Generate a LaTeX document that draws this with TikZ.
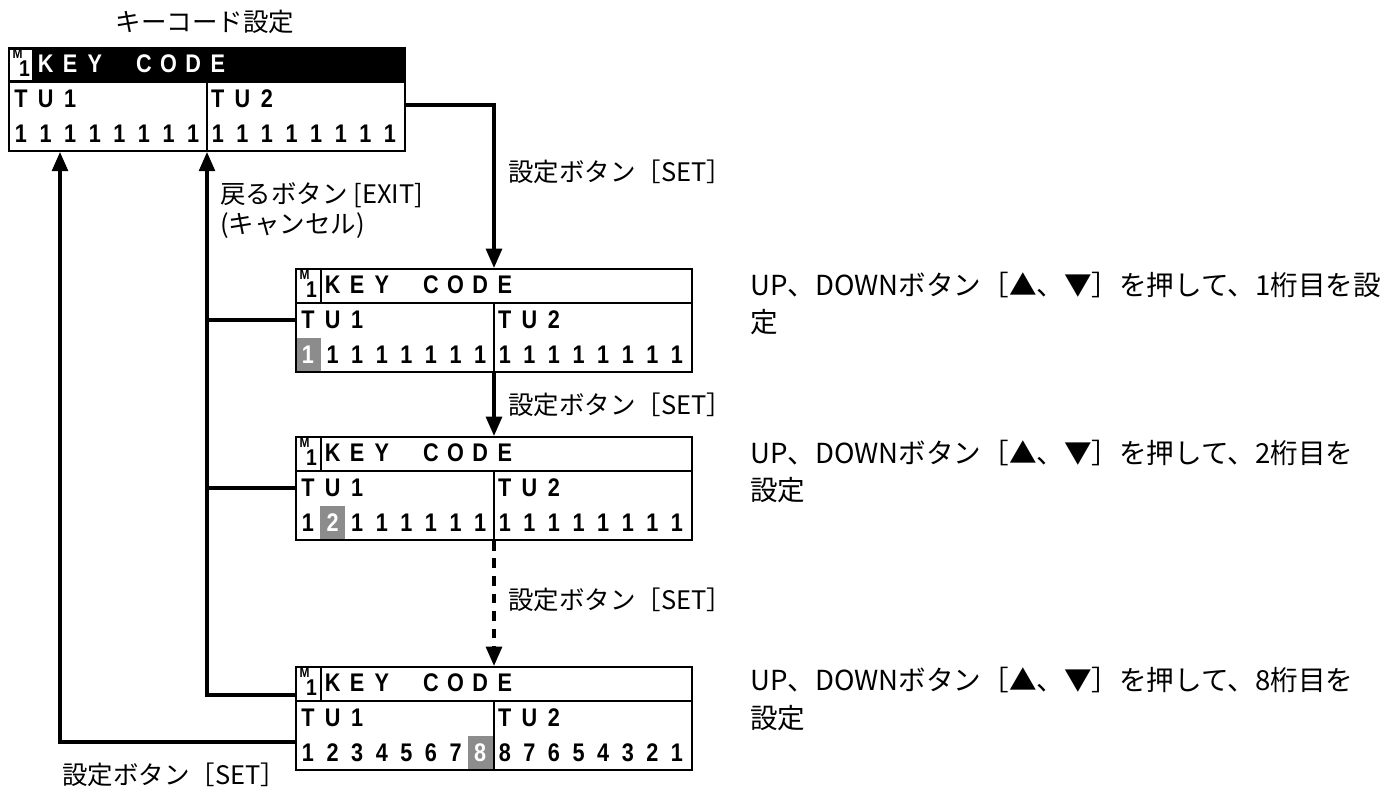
\documentclass[tikz,border=0pt]{standalone}
\usepackage{fontspec}
\setmainfont{Noto Sans CJK JP}
\newfontfamily\lcdfont{Liberation Sans}[FakeStretch=0.85]
\usepackage{xcolor}
\usetikzlibrary{arrows,arrows.meta,positioning,shapes,calc}

\definecolor{selgray}{gray}{0.55}

\tikzset{
  lcdframe/.style={draw, line width=1.1pt, inner sep=0pt, minimum width=7.92cm, minimum height=2.06cm},
  lcdchar/.style={font=\lcdfont\bfseries\fontsize{14.5}{15}\selectfont, inner sep=0pt},
  flow/.style={line width=2pt, -{Triangle[width=9pt,length=11pt]}},
  link/.style={line width=2pt},
  note/.style={font=\fontsize{14.5}{18}\selectfont, inner sep=0pt},
  guide/.style={font=\fontsize{15.7}{20}\selectfont, inner sep=0pt, anchor=west},
}

% 液晶表示 #1 名前, #2 左上, #3 見出しの地, #4 見出しの文字, #5 数字, #6 選択中の桁
\newcommand{\lcdpanel}[6]{%
  \begin{scope}[shift={#2}]
    \ifnum#6>0
      \fill[selgray] ({13+24.6*(#6-1)-12.5},70) rectangle ++(25,33);
    \fi
    \fill[#3] (0,0) rectangle (396,35);
    \fill[white] (2,3) rectangle (24,33);
    \node[lcdframe, anchor=north west] (#1) at (0,0) {};
    \draw[line width=1.1pt] (0,35) -- (396,35);
    \draw[line width=1.1pt] (26,0) -- (26,35);
    \draw[line width=1.1pt] (199,35) -- (199,103);
    \node[lcdchar, font=\lcdfont\bfseries\fontsize{8}{8}\selectfont, text height=5.6pt, text depth=0pt] (#1-m) at (9.5,6.5) {M};
    \node[lcdchar, font=\lcdfont\bfseries\fontsize{13}{14}\selectfont, text height=9.3pt, text depth=0pt] (#1-one) at (16.5,21) {1};
    \foreach \i/\c in {2/K,3/E,4/Y,6/C,7/O,8/D,9/E}
      \node[lcdchar, text=#4] (#1-h\i) at ({13+24.6*(\i-1)},17) {\c};
    \foreach \i/\c in {1/T,2/U,3/1,9/T,10/U,11/2}
      \node[lcdchar] (#1-t\i) at ({13+24.6*(\i-1)},52) {\c};
    \foreach \c [count=\i] in {#5} {
      \ifnum\i=#6 \def\dcol{white}\else\def\dcol{black}\fi
      \node[lcdchar, text=\dcol] (#1-d\i) at ({13+24.6*(\i-1)},87) {\c};
    }
  \end{scope}}

\begin{document}
\begin{tikzpicture}[x=0.02cm, y=-0.02cm]
    \useasboundingbox (0,0) rectangle (1387,787);

    % 画面
    \lcdpanel{b1}{(8,47)}{black}{white}{1,1,1,1,1,1,1,1,1,1,1,1,1,1,1,1}{0}
    \lcdpanel{b2}{(295,268)}{white}{black}{1,1,1,1,1,1,1,1,1,1,1,1,1,1,1,1}{1}
    \lcdpanel{b3}{(295,436)}{white}{black}{1,2,1,1,1,1,1,1,1,1,1,1,1,1,1,1}{2}
    \lcdpanel{b4}{(295,666)}{white}{black}{1,2,3,4,5,6,7,8,8,7,6,5,4,3,2,1}{8}

    % 接続点
    \coordinate (b1-out) at ($(b1.north east)+(0,58)$);
    \coordinate (b1-div) at ($(b1.south west)+(199,0)$);
    \coordinate (b1-ok) at ($(b1.south west)+(52,0)$);
    \coordinate (b2-in) at ($(b2.north west)+(199,0)$);
    \coordinate (b2-div) at ($(b2.south west)+(199,0)$);
    \coordinate (b2-back) at ($(b2.north west)+(0,52)$);
    \coordinate (b3-in) at ($(b3.north west)+(199,0)$);
    \coordinate (b3-div) at ($(b3.south west)+(199,0)$);
    \coordinate (b3-back) at ($(b3.north west)+(0,52)$);
    \coordinate (b4-in) at ($(b4.north west)+(199,0)$);
    \coordinate (b4-back) at ($(b4.north west)+(0,29)$);
    \coordinate (b4-ok) at ($(b4.north west)+(0,76)$);

    % 矢印
    \draw[flow] (b1-out) -| (b2-in);
    \draw[flow] (b2-div) -- (b3-in);
    \draw[flow, dash pattern=on 5.5pt off 4.5pt] (b3-div) -- (b4-in);
    \draw[flow] (b4-back) -| (b1-div);
    \draw[link] (b2-back) -- (b2-back -| b1-div);
    \draw[link] (b3-back) -- (b3-back -| b1-div);
    \draw[flow] (b4-ok) -| (b1-ok);

    % ラベル
    \node[note] (title) at (205,22) {キーコード設定};
    \node[note, anchor=west] (exit) at (220,195) {戻るボタン [EXIT]};
    \node[note, anchor=west] (cancel) at (220,226) {(キャンセル)};
    \node[note, anchor=west] (set1) at (508,172) {設定ボタン［SET］};
    \node[note, anchor=west] (set2) at (508,405) {設定ボタン［SET］};
    \node[note, anchor=west] (set3) at (508,600) {設定ボタン［SET］};
    \node[note, anchor=west] (set4) at (62,775) {設定ボタン［SET］};

    % 説明
    \node[guide] (g1a) at (750,285) {UP、DOWNボタン［▲、▼］を押して、1桁目を設};
    \node[guide] (g1b) at (750,322) {定};
    \node[guide] (g2a) at (750,453) {UP、DOWNボタン［▲、▼］を押して、2桁目を};
    \node[guide] (g2b) at (750,490) {設定};
    \node[guide] (g3a) at (750,680) {UP、DOWNボタン［▲、▼］を押して、8桁目を};
    \node[guide] (g3b) at (750,718) {設定};
\end{tikzpicture}
\end{document}
